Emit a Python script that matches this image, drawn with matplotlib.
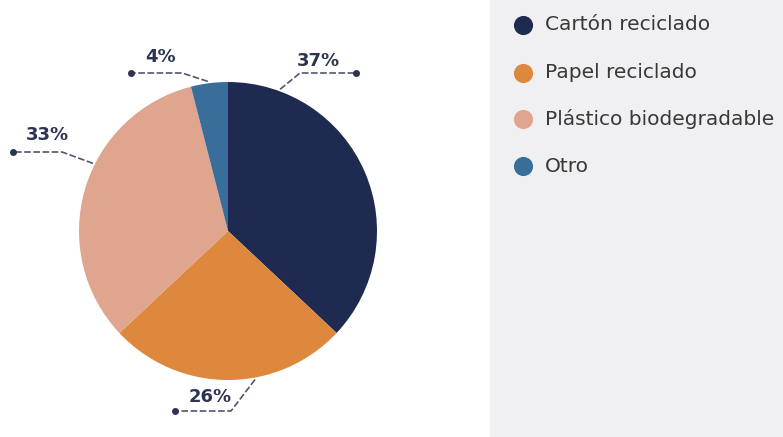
import numpy as np
import matplotlib.pyplot as plt
from matplotlib.patches import Rectangle

# material shares (percent), clockwise from 12 o'clock
labels = ["Cartón reciclado", "Papel reciclado", "Plástico biodegradable", "Otro"]
values = [37, 26, 33, 4]
colors = ["#1e2a50", "#dd883c", "#e0a58e", "#3a6e9a"]

W, H = 783, 437
ink = "#2c3452"
plt.rcParams["font.family"] = "DejaVu Sans"


def Y(y):
    # pixel rows (top-down) -> axes units (bottom-up)
    return H - y


fig = plt.figure(figsize=(W / 100, H / 100), dpi=100)
ax = fig.add_axes([0, 0, 1, 1])

cx, cy, r = 228, Y(231), 149
wedges, _ = ax.pie(values, colors=colors, startangle=90, counterclock=False,
                   center=(cx, cy), radius=r, frame=True,
                   wedgeprops=dict(linewidth=0))
ax.set_xlim(0, W)
ax.set_ylim(0, H)
ax.set_aspect("equal")
ax.axis("off")

# callouts: rim angle, elbow, end dot, text position
callouts = [
    (69.8, (300, 73), (356, 73), (318, 61)),
    (-79.7, (231, 411), (175, 411), (210, 397)),
    (153.4, (62, 152), (13, 152), (47, 135)),
    (97.7, (182, 73), (131, 73), (160, 57)),
]
for v, (ang, elbow, dot, txt) in zip(values, callouts):
    a = np.radians(ang)
    rim = (cx + (r + 2) * np.cos(a), cy + (r + 2) * np.sin(a))
    ax.plot([rim[0], elbow[0], dot[0]], [rim[1], Y(elbow[1]), Y(dot[1])],
            color="#505670", lw=1.2, ls=(0, (4, 1.5)), zorder=3)
    ax.plot(dot[0], Y(dot[1]), "o", color=ink, ms=4, zorder=4)
    ax.text(txt[0], Y(txt[1]), f"{v}%", ha="center", va="center",
            fontsize=13, fontweight="bold", color=ink)

# legend panel
ax.add_patch(Rectangle((490, 0), W - 490, H, color="#f0f0f2", zorder=0))
leg_y = [25, 73, 119, 166]
for lab, col, y in zip(labels, colors, leg_y):
    ax.scatter(523, Y(y), s=190, color=col, zorder=3, linewidths=0)
    ax.text(545, Y(y), lab, ha="left", va="center", fontsize=14.5,
            color="#383838")

fig.savefig("out.png", dpi=100)
